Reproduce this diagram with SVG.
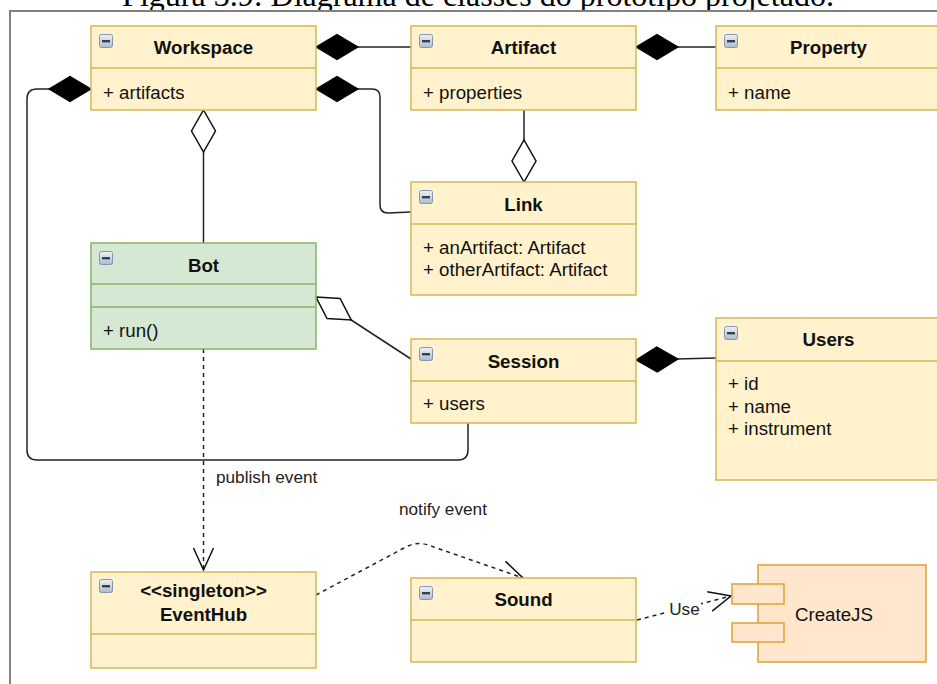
<svg xmlns="http://www.w3.org/2000/svg" xmlns:xlink="http://www.w3.org/1999/xlink" width="937" height="684" viewBox="0 0 937 684">
  <style>
    .box { fill: #fff2cc; stroke: #d6b656; stroke-width: 1.5; }
    .box.green { fill: #d5e8d4; stroke: #82b366; }
    .div { stroke: #d6b656; stroke-width: 1.5; }
    .div.green { stroke: #82b366; }
    .comp { fill: #ffe6cc; stroke: #e0a030; stroke-width: 1.5; }
    text { font-family: "Liberation Sans", Arial, Helvetica, sans-serif; fill: #111; }
    .title { font-size: 18.7px; font-weight: bold; text-anchor: middle; }
    .attr { font-size: 18.7px; }
    .label { font-size: 17.2px; fill: #222; }
    .edge { fill: none; stroke: #222; stroke-width: 1.5; }
    .dash { stroke-dasharray: 4 4; }
    .caption { font-family: "Liberation Serif", "Times New Roman", serif; font-size: 32px; text-anchor: middle; fill: #000; }
  </style>
  <defs>
    <linearGradient id="iconFill" x1="0" y1="0" x2="0" y2="1">
      <stop offset="0" stop-color="#eef3f8"/>
      <stop offset="1" stop-color="#a9bccf"/>
    </linearGradient>
    <g id="minus">
      <rect x="0.5" y="0.5" width="13" height="13" rx="2" fill="url(#iconFill)" stroke="#8296ad" stroke-width="1"/>
      <rect x="3" y="6" width="8" height="2.4" fill="#3a3f46"/>
    </g>
    <marker id="diamondFilled" markerUnits="userSpaceOnUse" markerWidth="46" markerHeight="30" refX="0" refY="0" orient="auto" overflow="visible">
      <path d="M0,0 L21,-12.5 L42,0 L21,12.5 Z" fill="#000" stroke="#000" stroke-width="1.2"/>
    </marker>
    <marker id="diamondHollow" markerUnits="userSpaceOnUse" markerWidth="46" markerHeight="30" refX="0" refY="0" orient="auto" overflow="visible">
      <path d="M0,0 L21,-12 L42,0 L21,12 Z" fill="#fff" stroke="#111" stroke-width="1.5"/>
    </marker>
    <marker id="openArrow" markerUnits="userSpaceOnUse" markerWidth="30" markerHeight="30" refX="0" refY="0" orient="auto" overflow="visible">
      <path d="M-22,-10 L0,0 L-22,10" fill="none" stroke="#111" stroke-width="1.5"/>
    </marker>
    <clipPath id="captionClip">
      <rect x="0" y="0" width="937" height="10"/>
    </clipPath>
  </defs>

  <rect x="0" y="0" width="937" height="684" fill="#fff"/>

  <!-- caption above the frame (clipped by the page edge) -->
  <text class="caption" x="478" y="6" clip-path="url(#captionClip)">Figura 3.9: Diagrama de classes do protótipo projetado.</text>

  <!-- frame -->
  <path d="M10,684 L10,11 L937,11" fill="none" stroke="#808080" stroke-width="2"/>

  <!-- connectors -->
  <g id="connectors">
    <path class="edge" d="M316,47 L411,47" marker-start="url(#diamondFilled)"/>
    <path class="edge" d="M636,47 L716,47" marker-start="url(#diamondFilled)"/>
    <path class="edge" d="M316,89 L372,89 Q380,89 380,97 L380,205 Q380,213 388,213 L411,212" marker-start="url(#diamondFilled)"/>
    <path class="edge" d="M91,89 L37,89 Q27,89 27,99 L27,450 Q27,460 37,460 L458,460 Q468,460 468,450 L468,423" marker-start="url(#diamondFilled)"/>
    <path class="edge" d="M203.5,110 L203.5,243" marker-start="url(#diamondHollow)"/>
    <path class="edge" d="M524,182 L524,110" marker-start="url(#diamondHollow)"/>
    <path class="edge" d="M316,297 L411,359" marker-start="url(#diamondHollow)"/>
    <path class="edge" d="M636,360 L716,358" marker-start="url(#diamondFilled)"/>
    <path class="edge dash" d="M203.5,349 L203.5,570" marker-end="url(#openArrow)"/>
    <text class="label" x="216" y="483">publish event</text>
    <path class="edge dash" d="M316,595 L404,548 Q416,541 428,545 L523,578" marker-end="url(#openArrow)"/>
    <text class="label" x="399" y="515">notify event</text>
    <path class="edge dash" d="M637,620 L731,596" marker-end="url(#openArrow)"/>
    <rect x="668" y="599" width="33" height="18" fill="#fff"/>
    <text class="label" x="684.5" y="615" text-anchor="middle">Use</text>
  </g>

  <g id="workspace">
    <rect class="box" x="91" y="26" width="225" height="84"/>
    <line class="div" x1="91" y1="68" x2="316" y2="68"/>
    <use href="#minus" x="99" y="34"/>
    <text class="title" x="203.5" y="54">Workspace</text>
    <text class="attr" x="103" y="99">+ artifacts</text>
  </g>

  <g id="artifact">
    <rect class="box" x="411" y="26" width="225" height="84"/>
    <line class="div" x1="411" y1="68" x2="636" y2="68"/>
    <use href="#minus" x="419" y="34"/>
    <text class="title" x="523.5" y="54">Artifact</text>
    <text class="attr" x="423" y="99">+ properties</text>
  </g>

  <g id="property">
    <rect class="box" x="716" y="26" width="225" height="84"/>
    <line class="div" x1="716" y1="68" x2="941" y2="68"/>
    <use href="#minus" x="724" y="34"/>
    <text class="title" x="828.5" y="54">Property</text>
    <text class="attr" x="728" y="99">+ name</text>
  </g>

  <g id="link">
    <rect class="box" x="411" y="182" width="225" height="113"/>
    <line class="div" x1="411" y1="224" x2="636" y2="224"/>
    <use href="#minus" x="419" y="190"/>
    <text class="title" x="523.5" y="211">Link</text>
    <text class="attr" x="423" y="254">+ anArtifact: Artifact</text>
    <text class="attr" x="423" y="276">+ otherArtifact: Artifact</text>
  </g>

  <g id="bot">
    <rect class="box green" x="91" y="243" width="225" height="106"/>
    <line class="div green" x1="91" y1="284" x2="316" y2="284"/>
    <line class="div green" x1="91" y1="307" x2="316" y2="307"/>
    <use href="#minus" x="99" y="251"/>
    <text class="title" x="203.5" y="272">Bot</text>
    <text class="attr" x="103" y="337">+ run()</text>
  </g>

  <g id="session">
    <rect class="box" x="411" y="339" width="225" height="84"/>
    <line class="div" x1="411" y1="381" x2="636" y2="381"/>
    <use href="#minus" x="419" y="347"/>
    <text class="title" x="523.5" y="368">Session</text>
    <text class="attr" x="423" y="410">+ users</text>
  </g>

  <g id="users">
    <rect class="box" x="716" y="318" width="225" height="162"/>
    <line class="div" x1="716" y1="361" x2="941" y2="361"/>
    <use href="#minus" x="724" y="326"/>
    <text class="title" x="828.5" y="346">Users</text>
    <text class="attr" x="728" y="390">+ id</text>
    <text class="attr" x="728" y="413">+ name</text>
    <text class="attr" x="728" y="435">+ instrument</text>
  </g>

  <g id="eventhub">
    <rect class="box" x="91" y="572" width="225" height="96"/>
    <line class="div" x1="91" y1="634" x2="316" y2="634"/>
    <use href="#minus" x="99" y="579"/>
    <text class="title" x="203.5" y="597">&lt;&lt;singleton&gt;&gt;</text>
    <text class="title" x="203.5" y="621">EventHub</text>
  </g>

  <g id="sound">
    <rect class="box" x="411" y="578" width="225" height="84"/>
    <line class="div" x1="411" y1="620" x2="636" y2="620"/>
    <use href="#minus" x="419" y="586"/>
    <text class="title" x="523.5" y="606">Sound</text>
  </g>

  <g id="createjs">
    <rect class="comp" x="758" y="565" width="168" height="97"/>
    <rect class="comp" x="732" y="584" width="52" height="20"/>
    <rect class="comp" x="732" y="623" width="52" height="19"/>
    <text class="attr" x="795" y="621">CreateJS</text>
  </g>
</svg>
